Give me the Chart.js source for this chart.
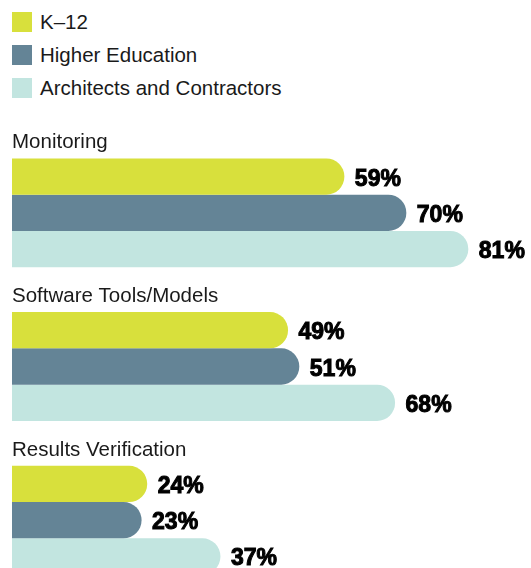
<!DOCTYPE html>
<html>
<head>
<meta charset="utf-8">
<script src="https://cdn.jsdelivr.net/npm/chart.js@4"></script>
<style>
  html, body { margin: 0; padding: 0; background: #fff; overflow: hidden; }
  #wrap { position: relative; width: 531px; height: 568px; overflow: hidden; }
  #legend { position: absolute; left: 12px; top: 12px; margin: 0; padding: 0; list-style: none;
            font-family: "Liberation Sans", Arial, sans-serif; font-size: 20.5px; color: #1a1a1a; }
  #legend li { height: 20px; line-height: 20px; margin-bottom: 13px; display: flex; align-items: center; }
  #legend span.box { display: inline-block; width: 20px; height: 20px; margin-right: 8px; }
  #chart { position: absolute; left: 0; top: 0; }
</style>
</head>
<body>
<div id="wrap">
  <ul id="legend"></ul>
  <canvas id="chart" width="531" height="620"></canvas>
</div>
<script>
// categories and series
const categories = ["Monitoring", "Software Tools/Models", "Results Verification"];
const seriesNames = ["K\u201312", "Higher Education", "Architects and Contractors"];
const k12 = [59, 49, 24];
const higherEd = [70, 51, 23];
const architects = [81, 68, 37];
const colors = ["#d8e03c", "#648496", "#c2e5e0"];

document.addEventListener("DOMContentLoaded", function () {
    const ctx = document.getElementById("chart").getContext("2d");

    // group label above each set of bars + value label at the end of each bar
    const labelPlugin = {
        id: "groupLabels",
        afterDatasetsDraw(chart) {
            const c = chart.ctx;
            c.save();
            // category labels
            const first = chart.getDatasetMeta(0);
            c.font = "20.5px 'Liberation Sans', Arial, sans-serif";
            c.fillStyle = "#1a1a1a";
            c.textAlign = "left";
            c.textBaseline = "alphabetic";
            first.data.forEach((bar, i) => {
                const top = bar.y - bar.height / 2;
                c.fillText(chart.data.labels[i], chart.chartArea.left, top - 10);
            });
            // values
            c.font = "bold 23px 'Liberation Sans', Arial, sans-serif";
            c.fillStyle = "#000";
            c.strokeStyle = "#000";
            c.lineWidth = 1;
            chart.data.datasets.forEach((ds, d) => {
                const meta = chart.getDatasetMeta(d);
                meta.data.forEach((bar, i) => {
                    const txt = ds.data[i] + "%";
                    c.fillText(txt, bar.x + 10.5, bar.y + 9);
                    c.strokeText(txt, bar.x + 10.5, bar.y + 9);
                });
            });
            c.restore();
        }
    };

    const chart = new Chart(ctx, {
        type: "bar",
        data: {
            labels: categories,
            datasets: [
                { label: seriesNames[0], data: k12, backgroundColor: colors[0] },
                { label: seriesNames[1], data: higherEd, backgroundColor: colors[1] },
                { label: seriesNames[2], data: architects, backgroundColor: colors[2] }
            ]
        },
        options: {
            indexAxis: "y",
            responsive: false,
            animation: false,
            layout: { padding: { left: 12, right: 12, top: 136, bottom: 23 } },
            datasets: {
                bar: {
                    categoryPercentage: 0.708,
                    barPercentage: 1,
                    borderWidth: 0,
                    borderRadius: 18
                }
            },
            scales: {
                x: { display: false, min: 0, max: 90 },
                y: { display: false }
            },
            plugins: {
                legend: { display: false },
                tooltip: { enabled: false }
            }
        },
        plugins: [labelPlugin]
    });

    // html legend built from the datasets
    const legend = document.getElementById("legend");
    chart.data.datasets.forEach(ds => {
        const li = document.createElement("li");
        const box = document.createElement("span");
        box.className = "box";
        box.style.background = ds.backgroundColor;
        li.appendChild(box);
        li.appendChild(document.createTextNode(ds.label));
        legend.appendChild(li);
    });
});
</script>
</body>
</html>
